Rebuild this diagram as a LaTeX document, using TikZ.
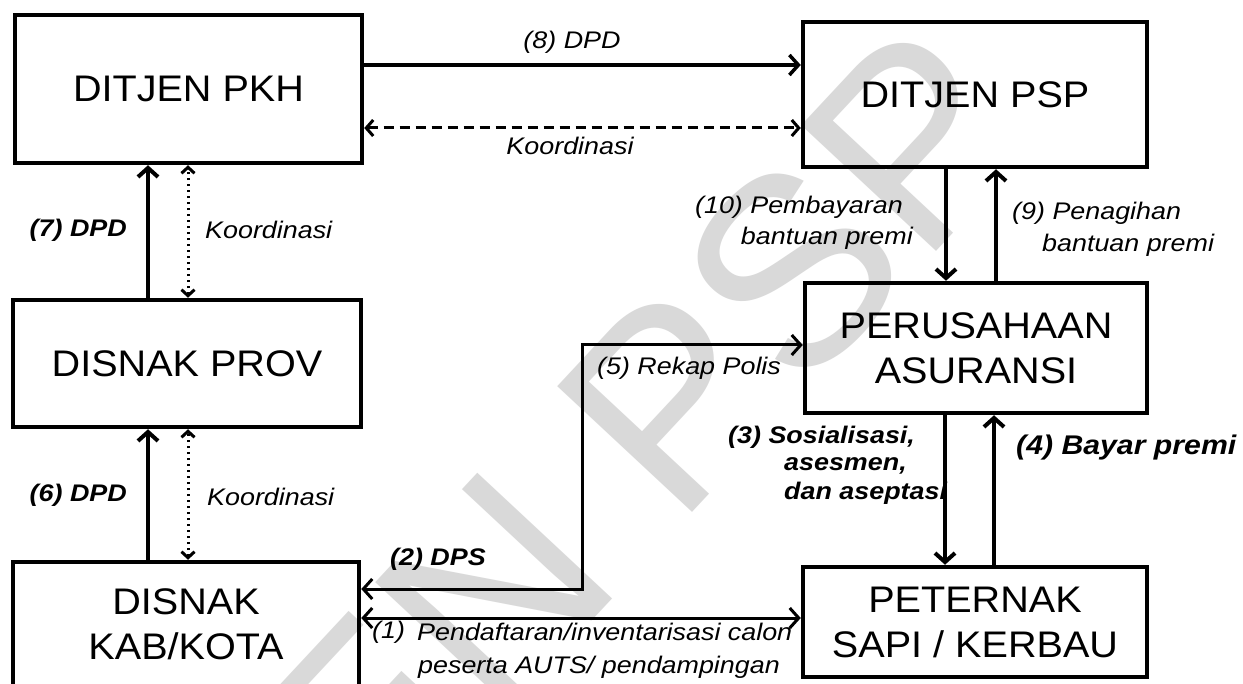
\documentclass[tikz,border=0pt]{standalone}
\usepackage{fontspec}
\setmainfont{Liberation Sans}
\newfontfamily\boxfont{Liberation Sans}[FakeStretch=1.07]
\newfontfamily\lblfont{Liberation Sans}[FakeStretch=1.12]
\newfontfamily\wmfont{Liberation Sans}
\usetikzlibrary{arrows.meta}
\begin{document}
\begin{tikzpicture}[x=1pt,y=-1pt,
  box/.style={draw=black, line width=4.5pt, rectangle, align=center, inner sep=0pt,
    font=\boxfont\fontsize{37}{45}\selectfont},
  arr/.style={line width=4pt, -{Straight Barb[length=9pt,width=20pt]}},
  harr/.style={line width=3.5pt, -{Straight Barb[length=9pt,width=20pt]}},
  darr/.style={line width=3pt, {Straight Barb[length=9pt,width=20pt]}-{Straight Barb[length=9pt,width=20pt]}},
  dsh/.style={line width=3pt, dash pattern=on 10pt off 6pt,
    {Straight Barb[length=7pt,width=16pt]}-{Straight Barb[length=7pt,width=16pt]}},
  dot/.style={line width=3pt, dash pattern=on 2.5pt off 3.5pt,
    {Straight Barb[length=6pt,width=13pt]}-{Straight Barb[length=6pt,width=13pt]}},
  lbl/.style={inner sep=0pt, font=\lblfont\itshape\fontsize{24}{28}\selectfont},
  blbl/.style={inner sep=0pt, font=\lblfont\bfseries\itshape\fontsize{24}{28}\selectfont},
]
\useasboundingbox (0,0) rectangle (1243,684);
\fill[white] (0,0) rectangle (1243,684);
% watermark
\node[rotate=47, text=black!15, inner sep=0pt, font=\wmfont\fontsize{268}{268}\selectfont] (wm) at (448,640) {DITJEN PSP};

% boxes
\node[box, minimum width=347pt, minimum height=148pt] (pkh) at (188.5,89) {DITJEN PKH};
\node[box, minimum width=344pt, minimum height=145pt] (psp) at (975,94.5) {DITJEN PSP};
\node[box, minimum width=348pt, minimum height=127pt] (prov) at (187,363.5) {DISNAK PROV};
\node[box, minimum width=346pt, minimum height=124pt] (kab) at (186,624) {DISNAK\\KAB/KOTA};
\node[box, minimum width=342pt, minimum height=130pt] (asr) at (976,348) {PERUSAHAAN\\ASURANSI};
\node[box, minimum width=344pt, minimum height=110pt] (ptr) at (975,622) {PETERNAK\\SAPI / KERBAU};

% helper coordinates
\coordinate (y65) at (0,65);
\coordinate (y128) at (0,128);
\coordinate (c2) at (582,589);
\coordinate (c5) at (582,345);
\coordinate (y1) at (0,618);

% top connectors
\draw[harr] (pkh.east |- y65) -- (psp.west |- y65);
\draw[dsh] (pkh.east |- y128) -- (psp.west |- y128);
\node[lbl] (l8) at (572,42) {(8) DPD};
\node[lbl] (lk1) at (570,146) {Koordinasi};

% left column
\draw[arr] ([xshift=-39pt]prov.north) -- ([xshift=-39pt]prov.north |- pkh.south);
\draw[dot] ([xshift=1pt]prov.north) -- ([xshift=1pt]prov.north |- pkh.south);
\node[blbl, anchor=east] (l7) at (127,230) {(7) DPD};
\node[lbl, anchor=west] (lk2) at (205,230) {Koordinasi};

\draw[arr] ([xshift=-38pt]kab.north) -- ([xshift=-38pt]kab.north |- prov.south);
\draw[dot] ([xshift=2pt]kab.north) -- ([xshift=2pt]kab.north |- prov.south);
\node[blbl, anchor=east] (l6) at (127,495) {(6) DPD};
\node[lbl, anchor=west] (lk3) at (207,497) {Koordinasi};

% right column
\draw[arr] ([xshift=-29pt]psp.south) -- ([xshift=-29pt]psp.south |- asr.north);
\draw[arr] ([xshift=20pt]asr.north) -- ([xshift=20pt]asr.north |- psp.south);
\node[lbl, anchor=east] (l10a) at (903,207) {(10) Pembayaran};
\node[lbl, anchor=east] (l10b) at (913,238) {bantuan premi};
\node[lbl, anchor=west] (l9a) at (1012,213) {(9) Penagihan};
\node[lbl, anchor=west] (l9b) at (1042,245) {bantuan premi};

\draw[arr] ([xshift=-31pt]asr.south) -- ([xshift=-31pt]asr.south |- ptr.north);
\draw[arr] ([xshift=19pt]ptr.north) -- ([xshift=19pt]ptr.north |- asr.south);
\node[blbl, anchor=west] (l3a) at (728,437) {(3) Sosialisasi,};
\node[blbl, anchor=west] (l3b) at (784,466) {asesmen,};
\node[blbl, anchor=west] (l3c) at (784,493) {dan aseptasi};
\node[inner sep=0pt, anchor=west, font=\lblfont\bfseries\itshape\fontsize{27}{30}\selectfont] (l4) at (1016,448) {(4) Bayar premi};

% (2)/(5) path
\draw[line width=3pt, {Straight Barb[length=9pt,width=20pt]}-{Straight Barb[length=9pt,width=20pt]}]
  (kab.east |- c2) -- (c2) -- (c5) -- (asr.west |- c5);
\node[lbl, anchor=west] (l5) at (597,368) {(5) Rekap Polis};
\node[blbl, anchor=west] (l2) at (390,559) {(2) DPS};

% (1)
\draw[darr] (kab.east |- y1) -- (ptr.west |- y1);
\node[lbl, anchor=west] (l1n) at (372,632) {(1)};
\node[lbl, anchor=west] (l1a) at (417,632) {Pendaftaran/inventarisasi calon};
\node[lbl, anchor=west] (l1b) at (418,667) {peserta AUTS/ pendampingan};
\end{tikzpicture}
\end{document}
